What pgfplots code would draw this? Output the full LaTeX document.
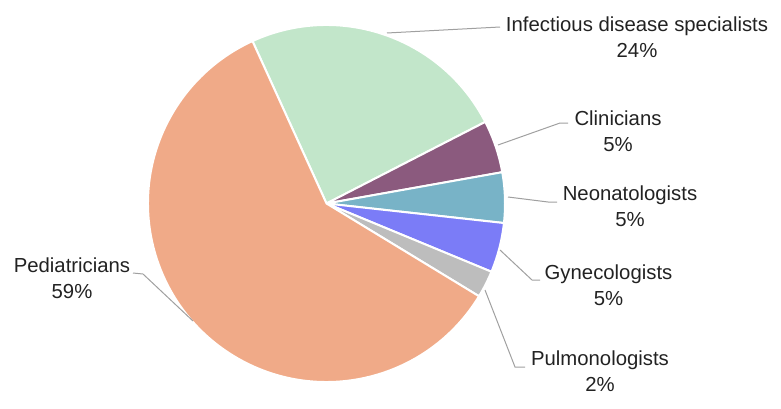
\documentclass[border=0pt]{standalone}
\usepackage{pgfplots}
\pgfplotsset{compat=1.18}
\usepackage{fontspec}
\setmainfont{Liberation Sans}
\definecolor{cPed}{HTML}{F0AA88}
\definecolor{cInf}{HTML}{C2E6CA}
\definecolor{cCli}{HTML}{8B5A7E}
\definecolor{cNeo}{HTML}{78B3C7}
\definecolor{cGyn}{HTML}{7B7CF7}
\definecolor{cPul}{HTML}{BDBDBD}
\definecolor{cLead}{HTML}{A0A0A0}
\definecolor{cTxt}{HTML}{222222}
% #1 cumulative share before the slice, #2 share, #3 colour
\newcommand{\pieslice}[3]{%
  \fill[#3, draw=white, line width=2bp] (axis cs:326.5,191.5) -- ++({114.5-3.6*(#1)}:178.5bp)
    arc[start angle={114.5-3.6*(#1)}, end angle={114.5-3.6*(#1+#2)}, radius=178.5bp] -- cycle;}
\newcommand{\lab}[4]{% x, baseline (pixel from top), line1, line2
  \node[anchor=base, inner sep=0pt, text=cTxt, font=\fontsize{20.4}{24}\selectfont] at (axis cs:#1,{395-#2}) {#3};
  \node[anchor=base, inner sep=0pt, text=cTxt, font=\fontsize{20.4}{24}\selectfont] at (axis cs:#1,{395-#2-26}) {#4};}
\begin{document}
\begin{tikzpicture}
\begin{axis}[x=1bp, y=1bp, xmin=0, xmax=781, ymin=0, ymax=395,
  hide axis, clip=false, scale only axis]
\path (axis cs:0,0) rectangle (axis cs:781,395);
% shares (percent), clockwise from the top
\pieslice{0}{24.25}{cInf}
\pieslice{24.25}{4.75}{cCli}
\pieslice{29.0}{4.55}{cNeo}
\pieslice{33.55}{4.5}{cGyn}
\pieslice{38.05}{2.45}{cPul}
\pieslice{40.5}{59.5}{cPed}
% leader lines
\draw[cLead, line width=1bp] (axis cs:387,{395-33}) -- (axis cs:500,{395-27});
\draw[cLead, line width=1bp] (axis cs:498,{395-145}) -- (axis cs:560,{395-123}) -- (axis cs:568,{395-123});
\draw[cLead, line width=1bp] (axis cs:508,{395-197}) -- (axis cs:548,{395-202}) -- (axis cs:557,{395-202});
\draw[cLead, line width=1bp] (axis cs:500,{395-250}) -- (axis cs:532,{395-280}) -- (axis cs:540,{395-280});
\draw[cLead, line width=1bp] (axis cs:485,{395-290}) -- (axis cs:515,{395-367}) -- (axis cs:525,{395-367});
\draw[cLead, line width=1bp] (axis cs:133,{395-273}) -- (axis cs:143,{395-274}) -- (axis cs:193,{395-321});
% labels
\lab{637}{31}{Infectious disease specialists}{24\%}
\lab{618}{125}{Clinicians}{5\%}
\lab{630}{200}{Neonatologists}{5\%}
\lab{608.5}{279}{Gynecologists}{5\%}
\lab{600}{365}{Pulmonologists}{2\%}
\lab{72}{272}{Pediatricians}{59\%}
\end{axis}
\end{tikzpicture}
\end{document}
